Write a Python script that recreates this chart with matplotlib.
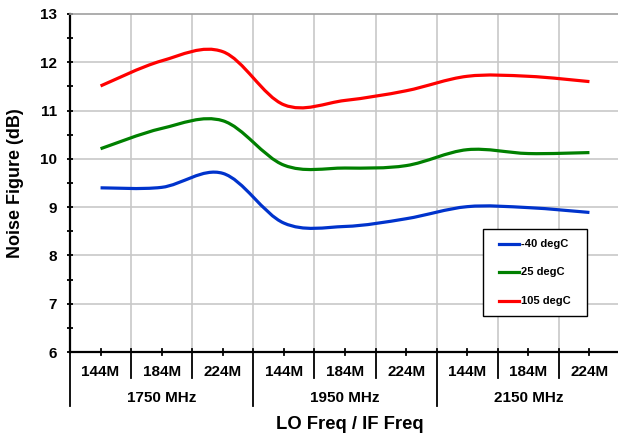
import matplotlib
matplotlib.use("Agg")
import matplotlib.pyplot as plt
from matplotlib.path import Path
from matplotlib.patches import PathPatch, Rectangle
from matplotlib.lines import Line2D

plt.rcParams['font.family'] = ['Liberation Sans', 'DejaVu Sans']
plt.rcParams['font.weight'] = 'bold'

# ---- data ----
if_labels = ["144M", "184M", "224M"] * 3
lo_labels = ["1750 MHz", "1950 MHz", "2150 MHz"]
series_names = ["-40 degC", "25 degC", "105 degC"]
nf_m40 = [9.40, 9.41, 9.70, 8.67, 8.60, 8.76, 9.01, 8.99, 8.89]
nf_25 = [10.21, 10.63, 10.79, 9.87, 9.81, 9.86, 10.19, 10.11, 10.13]
nf_105 = [11.51, 12.03, 12.22, 11.12, 11.21, 11.41, 11.71, 11.71, 11.60]
colors = ["#0033cc", "#008000", "#ff0000"]

W, H = 618, 436
fig = plt.figure(figsize=(W / 100, H / 100), dpi=100)
L, R, T, B = 70, 620, 14, 352
ax = fig.add_axes([L / W, (H - B) / H, (R - L) / W, (B - T) / H])

n = len(if_labels)
ax.set_xlim(0, n)
ax.set_ylim(6, 13)


def ax_x(px):
    return (px - L) / (R - L)


def ax_y(py):
    return (B - py) / (B - T)


def smooth_path(xs, ys):
    pts = list(zip(xs, ys))
    verts = [pts[0]]
    codes = [Path.MOVETO]
    m = len(pts)
    for i in range(m - 1):
        p0 = pts[i - 1] if i > 0 else pts[i]
        p1 = pts[i]
        p2 = pts[i + 1]
        p3 = pts[i + 2] if i + 2 < m else pts[i + 1]
        c1 = (p1[0] + (p2[0] - p0[0]) / 6, p1[1] + (p2[1] - p0[1]) / 6)
        c2 = (p2[0] - (p3[0] - p1[0]) / 6, p2[1] - (p3[1] - p1[1]) / 6)
        verts += [c1, c2, p2]
        codes += [Path.CURVE4] * 3
    return Path(verts, codes)


xs = [i + 0.5 for i in range(n)]
for vals, c in zip([nf_m40, nf_25, nf_105], colors):
    patch = PathPatch(smooth_path(xs, vals), facecolor='none', edgecolor=c,
                      linewidth=2.3, capstyle='butt', zorder=3)
    ax.add_patch(patch)

# grid
for i in range(1, n + 1):
    ax.axvline(i, color='#c8c8c8', lw=1.2, zorder=1)
for v in range(7, 13):
    ax.axhline(v, color='#c8c8c8', lw=1.2, zorder=1)

# spines
ax.spines['left'].set_linewidth(1.6)
ax.spines['bottom'].set_linewidth(1.6)
ax.spines['top'].set_color('#a0a0a0')
ax.spines['top'].set_linewidth(1.2)
ax.spines['right'].set_visible(False)

# y ticks
ax.set_yticks(range(6, 14))
ax.set_yticks([v + 0.5 for v in range(6, 13)], minor=True)
ax.tick_params(axis='y', which='major', direction='inout', length=4.5, width=1.3,
               labelsize=11, pad=7)
ax.tick_params(axis='y', which='minor', direction='inout', length=4, width=1.3)
ax.set_xticks([])

# x axis custom ticks and labels
tx = ax.get_xaxis_transform()
for x in xs:
    ax.add_line(Line2D([x, x], [ax_y(348.5), ax_y(355)], transform=tx, color='black',
                       lw=1.3, clip_on=False))
for i in range(0, n + 1):
    bottom = 406 if i % 3 == 0 else 378
    ax.add_line(Line2D([i, i], [ax_y(348.5), ax_y(bottom)], transform=tx, color='black',
                       lw=1.3, clip_on=False))
for x, lab in zip(xs, if_labels):
    ax.text(x, ax_y(371.5), lab, transform=tx, ha='center', va='center', fontsize=11,
            fontweight='bold')
for g, lab in enumerate(lo_labels):
    ax.text(g * 3 + 1.5, ax_y(397.5), lab, transform=tx, ha='center', va='center',
            fontsize=11, fontweight='bold')

fig.text(350 / W, 1 - 424 / H, "LO Freq / IF Freq", ha='center', va='center',
         fontsize=13.3, fontweight='bold')
fig.text(16 / W, 1 - 183 / H, "Noise Figure (dB)", ha='center', va='center',
         rotation=90, fontsize=13, fontweight='bold')

# legend (manual)
bx0, bx1, by0, by1 = 482.7, 587.3, 229.3, 316
ax.add_patch(Rectangle((ax_x(bx0), ax_y(by1)), ax_x(bx1) - ax_x(bx0),
                       ax_y(by0) - ax_y(by1), transform=ax.transAxes,
                       facecolor='white', edgecolor='black', lw=1.0, zorder=5))
rows = [244, 272.3, 301]
for ry, name, c in zip(rows, series_names, colors):
    ax.add_line(Line2D([ax_x(499.3), ax_x(519.3)], [ax_y(ry), ax_y(ry)],
                       transform=ax.transAxes, color=c, lw=2.3, zorder=6))
    ax.text(ax_x(520.7), ax_y(ry), name, transform=ax.transAxes, ha='left', va='center',
            fontsize=8, fontweight='bold', zorder=7)

fig.savefig("out.png", dpi=100)
